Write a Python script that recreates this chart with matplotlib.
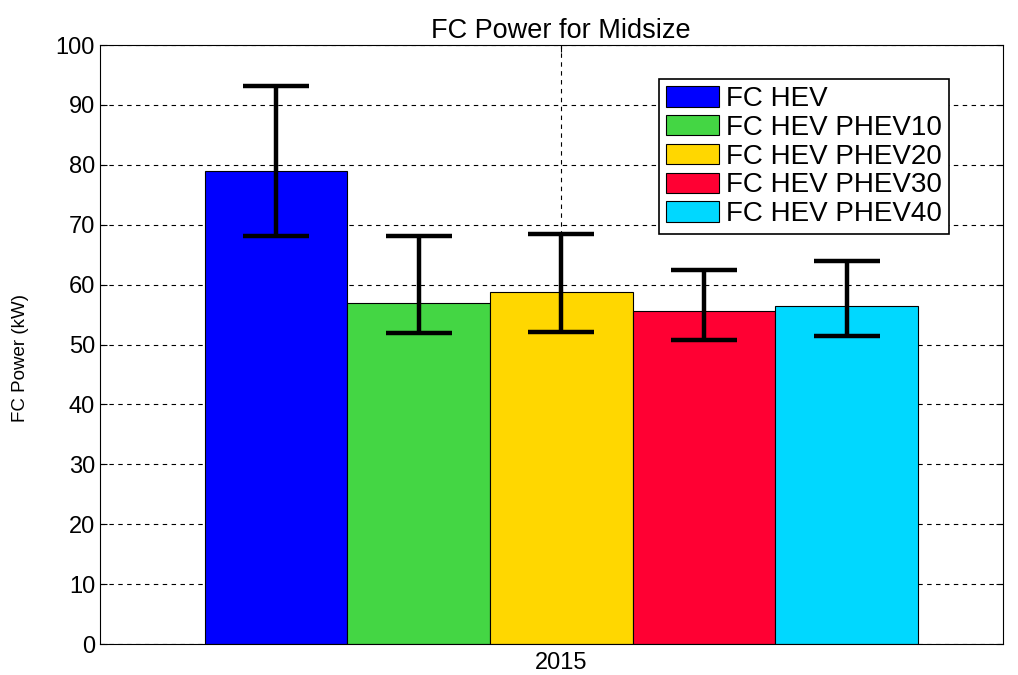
import matplotlib
matplotlib.use("Agg")
import matplotlib.pyplot as plt
import numpy as np

plt.rcParams["font.family"] = ["Liberation Sans", "DejaVu Sans"]

series = ["FC HEV", "FC HEV PHEV10", "FC HEV PHEV20", "FC HEV PHEV30", "FC HEV PHEV40"]
power = [79.0, 56.9, 58.8, 55.6, 56.5]
err_low = [68.2, 51.9, 52.1, 50.8, 51.5]
err_high = [93.2, 68.2, 68.4, 62.5, 63.9]
colors = ["#0000FF", "#44D644", "#FFD700", "#FF0033", "#00D8FF"]
year = "2015"

fig = plt.figure(figsize=(10.18, 6.75), dpi=100)
ax = fig.add_axes([0.0982, 0.0459, 0.887, 0.8874])

width = 0.158
n = len(series)
for i, (name, val, lo, hi, c) in enumerate(zip(series, power, err_low, err_high, colors)):
    x = 1 + (i - (n - 1) / 2) * width
    ax.bar(x, val, width=width, color=c, edgecolor="black", linewidth=0.8,
           label=name, zorder=2)
    ax.errorbar(x, val, yerr=[[val - lo], [hi - val]], fmt="none", ecolor="black",
                elinewidth=3.2, capsize=24, capthick=3.2, zorder=3)

ax.set_xlim(0.489, 1.489)
ax.set_ylim(0, 100)
ax.set_yticks(np.arange(0, 101, 10))
ax.set_xticks([1])
ax.set_xticklabels([year])
ax.tick_params(direction="in", labelsize=17, length=5, right=True, top=True)
ax.tick_params(axis="x", pad=6)
ax.grid(True, color="black", linestyle=(0, (4, 4)), linewidth=0.8, zorder=0)
ax.set_axisbelow(True)
for s in ax.spines.values():
    s.set_linewidth(0.8)

ax.set_title("FC Power for Midsize", fontsize=19.5, pad=5, x=0.51)
ax.set_ylabel("FC Power (kW)", fontsize=13.5)
ax.yaxis.set_label_coords(-0.079, 0.477)

leg = ax.legend(loc="upper right", bbox_to_anchor=(0.94, 0.943), fontsize=20,
                handlelength=1.9, handleheight=0.75, labelspacing=0.1,
                handletextpad=0.25, borderpad=0.25, borderaxespad=0,
                fancybox=False, framealpha=1, edgecolor="black")
leg.get_frame().set_linewidth(1.2)

fig.savefig("out.png", dpi=100)
